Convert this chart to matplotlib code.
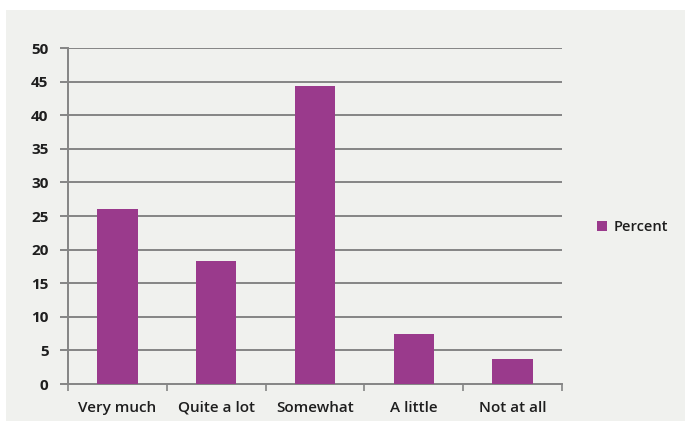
import matplotlib
matplotlib.use('Agg')
import matplotlib.pyplot as plt
from matplotlib.patches import Rectangle, Patch

# 数据
categories = ['Very much', 'Quite a lot', 'Somewhat', 'A little', 'Not at all']
percent = [26.0, 18.3, 44.3, 7.4, 3.7]
yticks = [0, 5, 10, 15, 20, 25, 30, 35, 40, 45, 50]

plt.rcParams['font.family'] = ['Open Sans', 'DejaVu Sans']

bar_color = '#9a3a8c'
grid_color = '#858585'
text_color = '#1e1e1e'

fig = plt.figure(figsize=(6.85, 4.23), dpi=100, facecolor='white')
# 灰色背景面板
fig.patches.append(Rectangle((6 / 685, 2 / 423), 679 / 685, 411 / 423,
                             transform=fig.transFigure, facecolor='#f0f1ee',
                             edgecolor='none', zorder=-10))

ax = fig.add_axes([68 / 685, 1 - 384 / 423, 494 / 685, 336 / 423])
ax.set_facecolor('none')
ax.set_zorder(5)

x = list(range(len(categories)))
ax.bar(x, percent, width=0.41, color=bar_color, zorder=3, label='Percent')

ax.set_xlim(-0.5, len(categories) - 0.5)
ax.set_ylim(0, 50)
ax.set_yticks(yticks)
ax.set_yticklabels([str(v) for v in yticks], fontsize=11, fontweight='bold', color=text_color)
for v in yticks[1:]:
    ax.axhline(v, color=grid_color, linewidth=1.4, zorder=1)

# x轴刻度在类别边界
ax.set_xticks([i - 0.5 for i in range(len(categories) + 1)])
ax.set_xticklabels([])
ax.set_xticks(x, minor=True)
ax.set_xticklabels(categories, minor=True, fontsize=11, fontweight='semibold', color=text_color)
ax.tick_params(axis='x', which='minor', length=0, pad=12)
ax.tick_params(axis='x', which='major', length=5, color=grid_color, width=1.2)
ax.tick_params(axis='y', length=6, color=grid_color, width=1.4, pad=8)

for side in ['top', 'right']:
    ax.spines[side].set_visible(False)
for side in ['left', 'bottom']:
    ax.spines[side].set_color(grid_color)
    ax.spines[side].set_linewidth(1.4)

handle = Patch(facecolor=bar_color, edgecolor='none')
fig.legend([handle], ['Percent'], loc='center left', bbox_to_anchor=(584 / 685, 1 - 227 / 423),
           frameon=False, handlelength=0.7, handleheight=0.7, handletextpad=0.4,
           prop={'size': 10.5, 'weight': 'semibold'}, labelcolor=text_color)

plt.savefig('out.png', dpi=100, facecolor='white')
plt.close(fig)
